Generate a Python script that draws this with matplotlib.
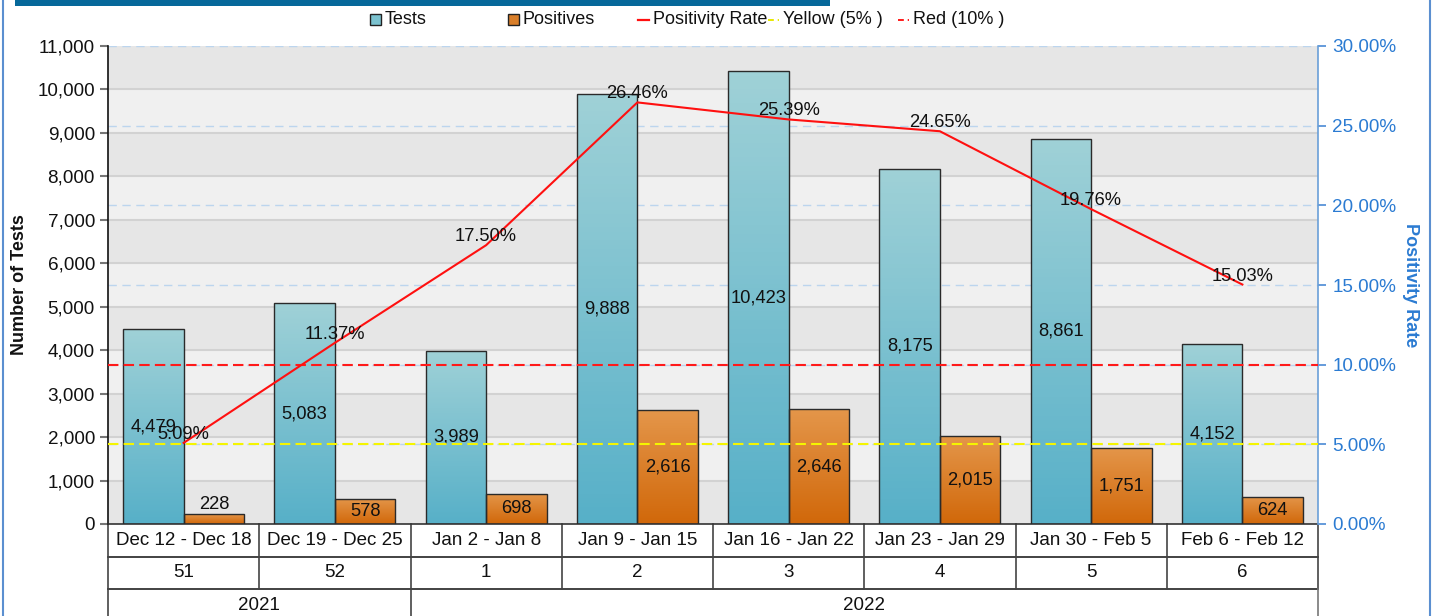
import numpy as np
import matplotlib
matplotlib.use('Agg')
import matplotlib.pyplot as plt
from matplotlib.colors import LinearSegmentedColormap
from matplotlib.patches import Rectangle
from matplotlib.lines import Line2D
from matplotlib.transforms import blended_transform_factory

plt.rcParams['font.family'] = ['Liberation Sans', 'DejaVu Sans']
plt.rcParams['font.size'] = 13.2

# data
weeks_dates = ['Dec 12 - Dec 18', 'Dec 19 - Dec 25', 'Jan 2 - Jan 8', 'Jan 9 - Jan 15',
               'Jan 16 - Jan 22', 'Jan 23 - Jan 29', 'Jan 30 - Feb 5', 'Feb 6 - Feb 12']
week_nums = ['51', '52', '1', '2', '3', '4', '5', '6']
years = ['2021', '2022']
year_spans = [2, 6]
tests = [4479, 5083, 3989, 9888, 10423, 8175, 8861, 4152]
positives = [228, 578, 698, 2616, 2646, 2015, 1751, 624]
rate = [5.09, 11.37, 17.50, 26.46, 25.39, 24.65, 19.76, 15.03]
yellow_lvl = 5
red_lvl = 10

W, H = 1433, 616
fig = plt.figure(figsize=(W / 100, H / 100), dpi=100)
ax = fig.add_axes([108 / W, 1 - 524 / H, 1210 / W, 478 / H])
ax2 = ax.twinx()

n = len(tests)
x = np.arange(n)
bw = 0.4
ymax = 11000

# background bands
for k in range(0, ymax, 1000):
    ax.axhspan(k, k + 1000, color='#e6e6e6' if (k // 1000) % 2 == 0 else '#f0f0f0', lw=0, zorder=0)
    if k > 0:
        ax.axhline(k, color='#d2d2d2', lw=1.5, zorder=0.5)


def grad_bars(xs, vals, ctop, cbot):
    cmap = LinearSegmentedColormap.from_list('g', [cbot, ctop])
    bars = ax.bar(xs, vals, bw, facecolor='none', edgecolor='#2a2a2a', lw=1, zorder=3)
    for b, v in zip(bars, vals):
        x0 = b.get_x()
        img = ax.imshow(np.linspace(0, 1, 100).reshape(-1, 1), cmap=cmap, origin='lower',
                        extent=(x0, x0 + bw, 0, v), aspect='auto', zorder=2.5)
        img.set_clip_path(b)
    return bars


grad_bars(x - bw / 2, tests, '#9fd1d7', '#57b0c8')
grad_bars(x + bw / 2, positives, '#e4964a', '#d1680a')

for i in range(n):
    ax.text(i - bw / 2, tests[i] / 2, f'{tests[i]:,}', ha='center', va='center', color='#111', zorder=4)
    if positives[i] < 450:
        ax.annotate(f'{positives[i]:,}', (i + bw / 2, positives[i]), xytext=(0, 1),
                    textcoords='offset points', ha='center', va='bottom', color='#111', zorder=4)
    else:
        ax.text(i + bw / 2, positives[i] / 2, f'{positives[i]:,}', ha='center', va='center',
                color='#111', zorder=4)

ax.set_xlim(-0.5, n - 0.5)
ax.set_ylim(0, ymax)
ax2.set_ylim(0, 30)

# right axis grid lines behind bars
tr = blended_transform_factory(ax.transAxes, ax2.transData)
for p in range(5, 31, 5):
    ax.plot([0, 1], [p, p], transform=tr, color='#bcd5ee', lw=1, ls=(0, (6, 4)), zorder=1)

ax.set_yticks(range(0, ymax + 1, 1000))
ax.set_yticklabels([f'{v:,}' for v in range(0, ymax + 1, 1000)])
ax.tick_params(axis='y', length=6, width=1.5, color='#777', pad=3.4, labelcolor='#111', labelsize=13.6)
ax.set_xticks([])
ax2.set_yticks(range(0, 31, 5))
ax2.set_yticklabels([f'{v:.2f}%' for v in range(0, 31, 5)])
ax2.tick_params(axis='y', length=6, width=1.2, color='#4a8ad4', pad=4.3, labelcolor='#2b7bd2', labelsize=13.6)

for a in (ax, ax2):
    a.spines['top'].set_visible(False)
ax.spines['left'].set_color('#111')
ax.spines['left'].set_linewidth(1.2)
ax.spines['right'].set_visible(False)
ax2.spines['left'].set_visible(False)
ax2.spines['bottom'].set_visible(False)
ax2.spines['right'].set_color('#6a9fd8')
ax2.spines['right'].set_linewidth(1.2)
ax.spines['bottom'].set_color('#333')
ax.spines['bottom'].set_linewidth(1.2)

# threshold lines and positivity line
ax2.axhline(yellow_lvl, color='#f5f500', lw=1.5, ls=(0, (5, 2.5)), zorder=5)
ax2.axhline(red_lvl, color='#ff1a1a', lw=1.5, ls=(0, (5, 2.5)), zorder=5)
ax2.plot(x, rate, color='#ff1010', lw=1.5, zorder=6)
for i in range(n):
    ax2.annotate(f'{rate[i]:.2f}%', (i, rate[i]), xytext=(0, 0), textcoords='offset points',
                 ha='center', va='bottom', color='#111', zorder=7)

# table under the axis
tb = blended_transform_factory(ax.transData, ax.transAxes)
rh = 32.5 / 478
lc = '#222'
for r in range(1, 3):
    ax.plot([-0.5, n - 0.5], [-r * rh, -r * rh], transform=tb, color=lc, lw=1.2, clip_on=False)
for i in range(n + 1):
    ax.plot([i - 0.5, i - 0.5], [0, -2 * rh], transform=tb, color='#444', lw=1.2, clip_on=False)
for i in range(n):
    ax.text(i, -0.5 * rh, weeks_dates[i], transform=tb, ha='center', va='center', color='#111', fontsize=13.5)
    ax.text(i, -1.5 * rh, week_nums[i], transform=tb, ha='center', va='center', color='#111', fontsize=13.5)
start = 0
for yr, sp in zip(years, year_spans):
    ax.plot([start - 0.5, start - 0.5], [-2 * rh, -3 * rh], transform=tb, color='#444', lw=1.2, clip_on=False)
    ax.text(start + sp / 2 - 0.5, -2.5 * rh, yr, transform=tb, ha='center', va='center', color='#111',
            fontsize=13.5)
    start += sp
ax.plot([start - 0.5, start - 0.5], [-2 * rh, -3 * rh], transform=tb, color='#777', lw=1.2, clip_on=False)

# axis titles
fig.text(20 / W, 1 - 285 / H, 'Number of Tests', rotation=90, ha='center', va='center',
         fontweight='bold', fontsize=13, color='#111')
fig.text(1410 / W, 1 - 285 / H, 'Positivity Rate', rotation=-90, ha='center', va='center',
         fontweight='bold', fontsize=13, color='#2b7bd2')

# legend
leg_labels = ['Tests', 'Positives', 'Positivity Rate', 'Yellow (5% )', 'Red (10% )']
leg_x = [370, 508, 638, 768, 898]
ly = 1 - 19.5 / H
fig.patches.append(Rectangle((leg_x[0] / W, 1 - 25 / H), 11 / W, 11 / H, transform=fig.transFigure,
                             facecolor='#7cc3d0', edgecolor='#222', lw=1))
fig.patches.append(Rectangle((leg_x[1] / W, 1 - 25 / H), 11 / W, 11 / H, transform=fig.transFigure,
                             facecolor='#da7f2a', edgecolor='#222', lw=1))
fig.lines.append(Line2D([leg_x[2] / W, (leg_x[2] + 11) / W], [ly, ly], transform=fig.transFigure,
                        color='#ff1010', lw=1.6))
fig.lines.append(Line2D([leg_x[3] / W, (leg_x[3] + 11) / W], [ly, ly], transform=fig.transFigure,
                        color='#e8e800', lw=1.4, ls=(0, (3, 2))))
fig.lines.append(Line2D([leg_x[4] / W, (leg_x[4] + 11) / W], [ly, ly], transform=fig.transFigure,
                        color='#ff1a1a', lw=1.4, ls=(0, (3, 2))))
for lx, lab in zip(leg_x, leg_labels):
    fig.text((lx + 15) / W, ly, lab, ha='left', va='center', fontsize=13, color='#111')

# header bar and frame
fig.patches.append(Rectangle((15 / W, 1 - 6 / H), 815 / W, 6 / H, transform=fig.transFigure,
                             facecolor='#06689a', lw=0))
fig.lines.append(Line2D([3 / W, 3 / W], [0, 1], transform=fig.transFigure, color='#5b8fd0', lw=1.5))
fig.lines.append(Line2D([1430 / W, 1430 / W], [0, 1], transform=fig.transFigure, color='#5b8fd0', lw=1.5))

fig.savefig('out.png', dpi=100)
